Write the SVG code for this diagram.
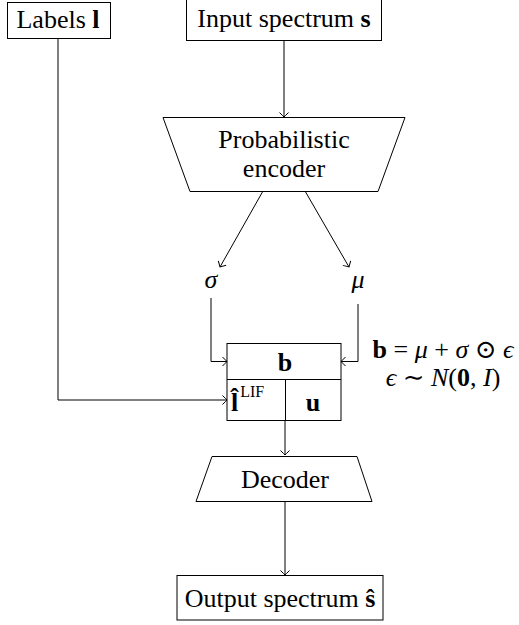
<svg xmlns="http://www.w3.org/2000/svg" width="519" height="625" viewBox="0 0 519 625">
<style>
.box{fill:#fff;stroke:#000;stroke-width:1}
.t{font-family:"Liberation Serif","DejaVu Serif",serif;font-size:26px;fill:#000}
.m{text-anchor:middle}
.b{font-weight:bold}
.i{font-style:italic}
.c{fill:none;stroke:#000;stroke-width:1}
</style>
<defs>
<marker id="to" markerUnits="userSpaceOnUse" markerWidth="12" markerHeight="12" viewBox="-6 -6 12 12" refX="0" refY="0" orient="auto">
<path d="M-4.5,-4.5 Q-1,-1 0,0 Q-1,1 -4.5,4.5" fill="none" stroke="#000" stroke-width="1"/>
</marker>
</defs>
<rect width="519" height="625" fill="#fff"/>
<g id="connectors">
<path class="c" d="M284,41 V117" marker-end="url(#to)"/>
<path class="c" d="M263,191 L220,267" marker-end="url(#to)"/>
<path class="c" d="M305,191 L349,267" marker-end="url(#to)"/>
<path class="c" d="M211,298 V361.5 H227" marker-end="url(#to)"/>
<path class="c" d="M358,304 V361.5 H341" marker-end="url(#to)"/>
<path class="c" d="M58,38 V400 H227" marker-end="url(#to)"/>
<path class="c" d="M285,421 V455" marker-end="url(#to)"/>
<path class="c" d="M285,501 V575" marker-end="url(#to)"/>
</g>
<g id="labels">
<rect class="box" x="7.5" y="2.5" width="103" height="36"/>
<text class="t m" x="58" y="28">Labels <tspan class="b">l</tspan></text>
</g>
<g id="input">
<rect class="box" x="186.5" y="-1" width="195" height="41.5"/>
<text class="t m" x="284" y="27">Input spectrum <tspan class="b">s</tspan></text>
</g>
<g id="encoder">
<polygon class="box" points="163,117.5 405,117.5 378,191.5 190,191.5"/>
<text class="t m" x="284" y="148">Probabilistic</text>
<text class="t m" x="284" y="177">encoder</text>
</g>
<g id="sigma">
<text class="t m i" x="211" y="288">σ</text>
</g>
<g id="mu">
<text class="t m i" x="358" y="288">μ</text>
</g>
<g id="latent">
<rect class="box" x="227" y="343.5" width="114" height="77"/>
<line class="c" x1="227" y1="379.5" x2="341" y2="379.5"/>
<line class="c" x1="285.5" y1="379.5" x2="285.5" y2="420.5"/>
<text class="t m b" x="285" y="371">b</text>
<text class="t" x="231" y="411"><tspan class="b">l&#x302;</tspan><tspan dy="-14" dx="2" style="font-size:16px">LIF</tspan></text>
<text class="t m b" x="313" y="411">u</text>
</g>
<g id="equation">
<text class="t m" x="443" y="358"><tspan class="b">b</tspan> = <tspan class="i">μ</tspan> + <tspan class="i">σ</tspan> ⊙ <tspan class="i">ϵ</tspan></text>
<text class="t m" x="443" y="386"><tspan class="i">ϵ</tspan> ∼ <tspan class="i">N</tspan>(<tspan class="b">0</tspan>, <tspan class="i">I</tspan>)</text>
</g>
<g id="decoder">
<polygon class="box" points="212,456.5 357,456.5 372,501.5 196,501.5"/>
<text class="t m" x="285" y="488">Decoder</text>
</g>
<g id="output">
<rect class="box" x="177" y="575.5" width="206" height="44.5"/>
<text class="t m" x="280" y="607">Output spectrum <tspan class="b">ŝ</tspan></text>
</g>
</svg>
